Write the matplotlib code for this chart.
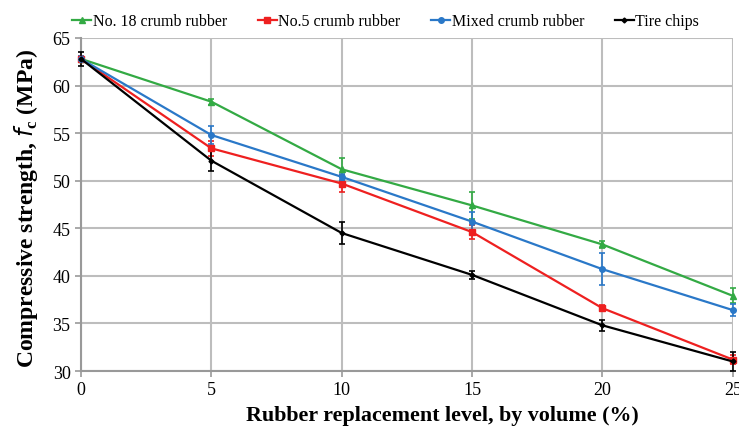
import matplotlib.pyplot as plt
from matplotlib.lines import Line2D

# Data
levels = [0, 5, 10, 15, 20, 25]
no18 = [62.8, 58.3, 51.2, 47.4, 43.3, 37.9]
no18_err = [0.3, 0.3, 1.2, 1.4, 0.4, 0.8]
no5 = [62.8, 53.4, 49.7, 44.6, 36.6, 31.2]
no5_err = [0.3, 0.8, 0.9, 0.7, 0.3, 0.5]
mixed = [62.8, 54.8, 50.4, 45.7, 40.7, 36.4]
mixed_err = [0.3, 0.9, 0.3, 1.0, 1.7, 0.6]
chips = [62.8, 52.1, 44.5, 40.1, 34.8, 31.0]
chips_err = [0.7, 1.1, 1.2, 0.4, 0.6, 1.0]

series = [
    ("No. 18 crumb rubber", no18, no18_err, "#33aa44", "^", 4),
    ("No.5 crumb rubber", no5, no5_err, "#ee2020", "s", 4),
    ("Mixed crumb rubber", mixed, mixed_err, "#2a78c8", "o", 4),
    ("Tire chips", chips, chips_err, "black", "D", 2.5),
]

plt.rcParams['font.family'] = ['Liberation Serif', 'DejaVu Serif']

fig = plt.figure(figsize=(7.39, 4.27), dpi=100)
ax = fig.add_axes([0.1096, 0.1288, 0.882, 0.780])

handles = []
for label, vals, err, color, marker, ms in series:
    ax.errorbar(levels, vals, yerr=err, color=color, marker=marker, markersize=ms,
                linewidth=1.6, elinewidth=1.2, capsize=2.5, capthick=1.2,
                clip_on=False, zorder=3)
    handles.append(Line2D([], [], color=color, marker=marker, markersize=ms,
                          linewidth=1.6, label=label))

ax.set_xlim(0, 25)
ax.set_ylim(30, 65)
ax.set_xticks(levels)
ax.set_yticks(range(30, 66, 5))
ax.grid(True, color="#bdbdbd", linewidth=1.5)
ax.set_axisbelow(True)
for side in ["top", "right"]:
    ax.spines[side].set_visible(False)
for side in ["left", "bottom"]:
    ax.spines[side].set_color("#999999")
    ax.spines[side].set_linewidth(1.5)
ax.tick_params(labelsize=13, color="#999999", length=4, width=1.2)

ax.set_xlabel("Rubber replacement level, by volume (%)", fontsize=15.8, fontweight="bold",
              labelpad=5, x=0.554)
ax.set_ylabel(r"Compressive strength, $f_{\mathregular{c}}$ (MPa)", fontsize=17,
              fontweight="bold", labelpad=9, y=0.49)

fig.legend(handles=handles, loc="upper center", bbox_to_anchor=(0.522, 1.0), ncol=4,
           frameon=False, fontsize=11.5, handlelength=1.2, handletextpad=0.1,
           columnspacing=1.9)

fig.savefig("out.png", dpi=100)
